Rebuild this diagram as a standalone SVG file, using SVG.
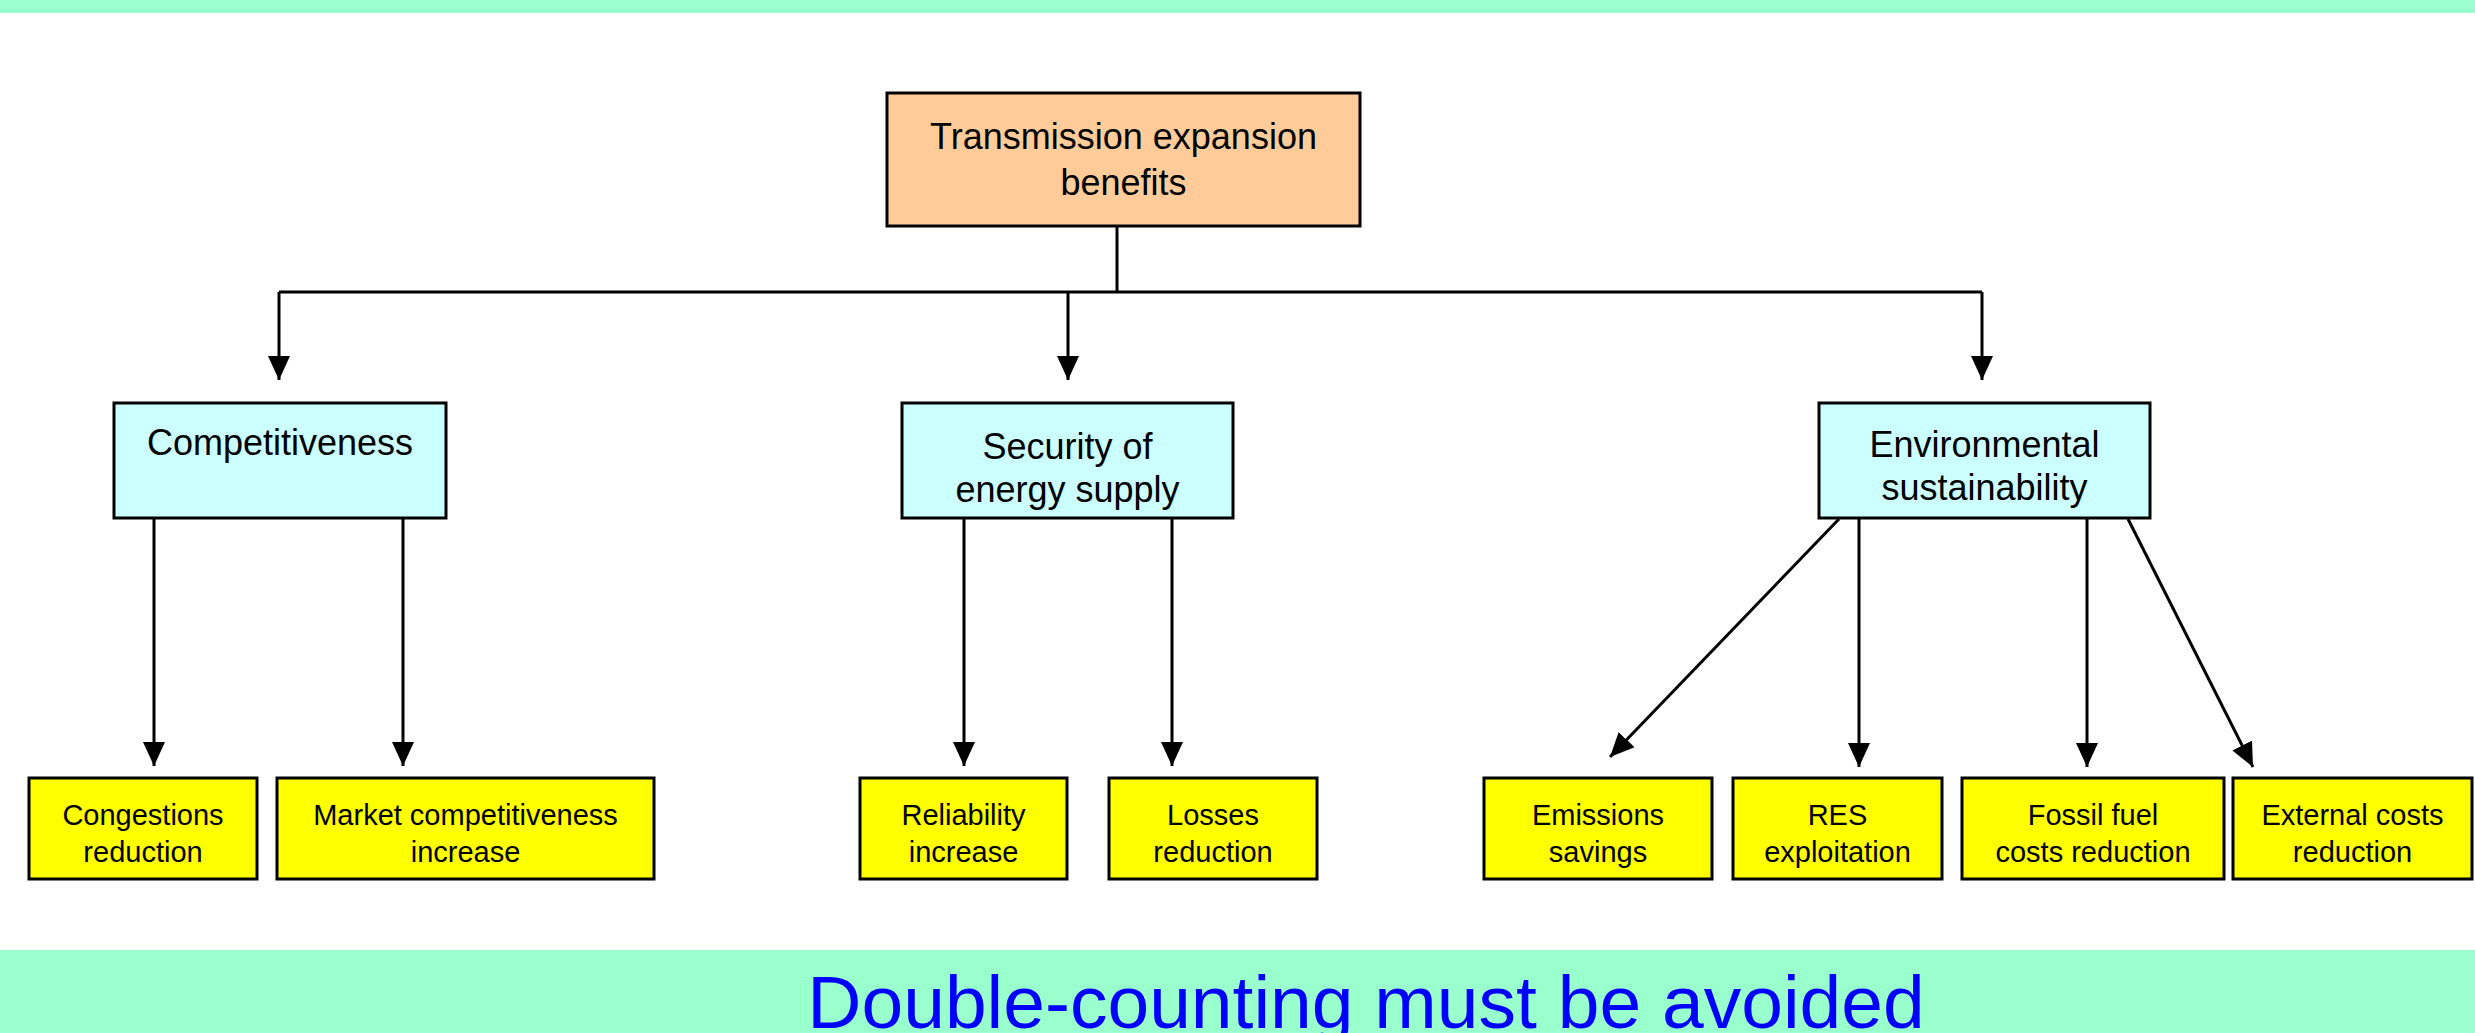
<svg xmlns="http://www.w3.org/2000/svg" width="2475" height="1033" viewBox="0 0 2475 1033">
<defs>
<style>
.box{stroke:#000;stroke-width:3}
.root{fill:#FFCC99}
.mid{fill:#CCFFFF}
.leaf{fill:#FFFF00}
.t36{font-family:"Liberation Sans",Arial,sans-serif;font-size:36px;fill:#000;text-anchor:middle}
.t30{font-family:"Liberation Sans",Arial,sans-serif;font-size:29px;fill:#000;text-anchor:middle}
.band{fill:#99FFCC}
.conn{stroke:#000;stroke-width:3;fill:none}
</style>
<marker id="arr" viewBox="0 0 24 22" refX="24" refY="11" markerWidth="24" markerHeight="22" markerUnits="userSpaceOnUse" orient="auto">
<path d="M0,0 L24,11 L0,22 z" fill="#000"/>
</marker>
</defs>
<rect width="2475" height="1033" fill="#fff"/>
<rect class="band" x="0" y="0" width="2475" height="13"/>
<g id="footer">
<rect class="band" x="0" y="950" width="2475" height="83"/>
<text x="1366" y="1028" font-family="'Liberation Sans',Arial,sans-serif" font-size="75" fill="#0000FF" text-anchor="middle">Double-counting must be avoided</text>
</g>
<g id="connectors">
<path class="conn" d="M1117,226 V292"/>
<path class="conn" d="M279,292 H1982"/>
<path class="conn" d="M279,292 V380" marker-end="url(#arr)"/>
<path class="conn" d="M1068,292 V380" marker-end="url(#arr)"/>
<path class="conn" d="M1982,292 V380" marker-end="url(#arr)"/>
<path class="conn" d="M154,518 V766" marker-end="url(#arr)"/>
<path class="conn" d="M403,518 V766" marker-end="url(#arr)"/>
<path class="conn" d="M964,518 V766" marker-end="url(#arr)"/>
<path class="conn" d="M1172,518 V766" marker-end="url(#arr)"/>
<path class="conn" d="M1839,519 L1610,757" marker-end="url(#arr)"/>
<path class="conn" d="M1859,519 V767" marker-end="url(#arr)"/>
<path class="conn" d="M2087,519 V767" marker-end="url(#arr)"/>
<path class="conn" d="M2128,519 L2253,767" marker-end="url(#arr)"/>
</g>
<g id="root">
<rect class="box root" x="887" y="93" width="473" height="133"/>
<text class="t36" x="1123.5" y="149">Transmission expansion</text>
<text class="t36" x="1123.5" y="195">benefits</text>
</g>
<g id="competitiveness">
<rect class="box mid" x="114" y="403" width="332" height="115"/>
<text class="t36" x="280" y="455">Competitiveness</text>
</g>
<g id="security">
<rect class="box mid" x="902" y="403" width="331" height="115"/>
<text class="t36" x="1067.5" y="459">Security of</text>
<text class="t36" x="1067.5" y="502">energy supply</text>
</g>
<g id="environmental">
<rect class="box mid" x="1819" y="403" width="331" height="115"/>
<text class="t36" x="1984.5" y="457">Environmental</text>
<text class="t36" x="1984.5" y="500">sustainability</text>
</g>
<g id="congestions">
<rect class="box leaf" x="29" y="778" width="228" height="101"/>
<text class="t30" x="143" y="825">Congestions</text>
<text class="t30" x="143" y="862">reduction</text>
</g>
<g id="market">
<rect class="box leaf" x="277" y="778" width="377" height="101"/>
<text class="t30" x="465.5" y="825">Market competitiveness</text>
<text class="t30" x="465.5" y="862">increase</text>
</g>
<g id="reliability">
<rect class="box leaf" x="860" y="778" width="207" height="101"/>
<text class="t30" x="963.5" y="825">Reliability</text>
<text class="t30" x="963.5" y="862">increase</text>
</g>
<g id="losses">
<rect class="box leaf" x="1109" y="778" width="208" height="101"/>
<text class="t30" x="1213" y="825">Losses</text>
<text class="t30" x="1213" y="862">reduction</text>
</g>
<g id="emissions">
<rect class="box leaf" x="1484" y="778" width="228" height="101"/>
<text class="t30" x="1598" y="825">Emissions</text>
<text class="t30" x="1598" y="862">savings</text>
</g>
<g id="res">
<rect class="box leaf" x="1733" y="778" width="209" height="101"/>
<text class="t30" x="1837.5" y="825">RES</text>
<text class="t30" x="1837.5" y="862">exploitation</text>
</g>
<g id="fossil">
<rect class="box leaf" x="1962" y="778" width="262" height="101"/>
<text class="t30" x="2093" y="825">Fossil fuel</text>
<text class="t30" x="2093" y="862">costs reduction</text>
</g>
<g id="external">
<rect class="box leaf" x="2233" y="778" width="239" height="101"/>
<text class="t30" x="2352.5" y="825">External costs</text>
<text class="t30" x="2352.5" y="862">reduction</text>
</g>
</svg>
